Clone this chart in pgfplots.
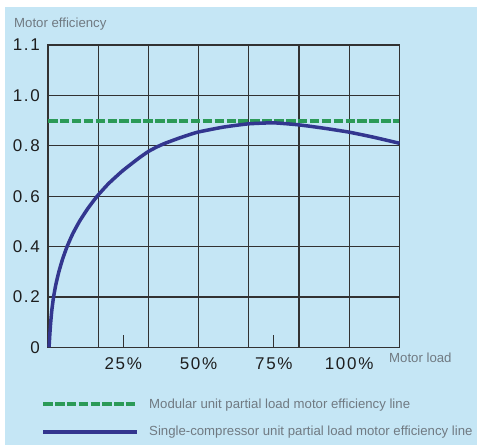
\documentclass[border=0pt]{standalone}
\usepackage{pgfplots}
\pgfplotsset{compat=1.18}
\usepackage{fontspec}
\setmainfont{Liberation Sans}
\newfontfamily\tickfont[LetterSpace=10]{Liberation Sans}
\definecolor{bgblue}{RGB}{197,230,245}
\definecolor{grn}{RGB}{43,154,87}
\definecolor{navy}{RGB}{51,54,143}
\definecolor{gridc}{RGB}{50,50,50}
\definecolor{lblgray}{RGB}{112,122,130}
\definecolor{tickc}{RGB}{30,30,30}
\begin{document}
\begin{tikzpicture}
\begin{scope}[x=1bp,y=-1bp]
\fill[white] (0,0) rectangle (477,445);
\fill[bgblue] (5,7) rectangle (477,445);
\end{scope}
\begin{axis}[
  at={(48bp,-347.3bp)}, anchor=south west,
  scale only axis, width=351.3bp, height=302.3bp,
  xmin=0, xmax=116.6667, ymin=0, ymax=1.2,
  clip=false,
  axis line style={gridc, line width=1.2bp},
  xtick={16.6667,33.3333,50,66.6667,83.3333,100},
  xticklabels={},
  ytick={0,0.2,0.4,0.6,0.8,1.0,1.2},
  yticklabels={0,0.2,0.4,0.6,0.8,1.0,1.1},
  major tick length=0pt,
  grid=major,
  major grid style={gridc, line width=1.2bp},
  tick pos=left,
  extra x ticks={25,50,75,100},
  extra x tick labels={25\%,50\%,75\%,100\%},
  extra x tick style={grid=none, major tick length=12bp, tick align=inside, tick style={gridc, line width=1.2bp}},
  xticklabel style={font=\tickfont\fontsize{17bp}{17bp}\selectfont, text=tickc, anchor=north, inner sep=0pt, yshift=-10bp},
  yticklabel style={font=\tickfont\fontsize{17bp}{17bp}\selectfont, text=tickc, anchor=east, inner sep=0pt, xshift=-8bp},
]
\addplot[grn, line width=4bp, dash pattern=on 9.5bp off 2.4bp] coordinates {(0,0.9) (116.6667,0.9)};
\addplot[navy, line width=3.5bp, smooth, tension=0.3] coordinates {
(0.35,0) (0.6,0.05) (0.9,0.1) (1.3,0.15) (1.85,0.2) (2.62,0.25) (3.61,0.3) (4.84,0.35) (6.34,0.4) (8.19,0.45) (10.46,0.5) (13.17,0.55) (16.33,0.6) (20.13,0.65) (24.71,0.7) (30.06,0.75) (33.3,0.777) (36.1,0.795) (38.9,0.810) (44.4,0.834) (49.7,0.854) (58.2,0.874) (66.5,0.887) (74.9,0.891) (83.3,0.883) (91.5,0.870) (100,0.854) (108.1,0.834) (116.7,0.810)
};
\end{axis}
\begin{scope}[x=1bp,y=-1bp]
\node[anchor=base west, inner sep=0pt, text=lblgray, font=\fontsize{13.2bp}{15bp}\selectfont] at (14,27.7) {Motor efficiency};
\node[anchor=base west, inner sep=0pt, text=lblgray, font=\fontsize{13.2bp}{15bp}\selectfont] at (389,362.3) {Motor load};
\draw[grn, line width=4bp, dash pattern=on 9.5bp off 2.3bp] (43.3,404.3) -- (136.7,404.3);
\draw[navy, line width=4bp] (43.3,432.3) -- (136.7,432.3);
\node[anchor=base west, inner sep=0pt, text=lblgray, font=\fontsize{13.2bp}{15bp}\selectfont] at (149,408.3) {Modular unit partial load motor efficiency line};
\node[anchor=base west, inner sep=0pt, text=lblgray, font=\fontsize{13.2bp}{15bp}\selectfont] at (149,435.7) {Single-compressor unit partial load motor efficiency line};
\end{scope}
\end{tikzpicture}
\end{document}
